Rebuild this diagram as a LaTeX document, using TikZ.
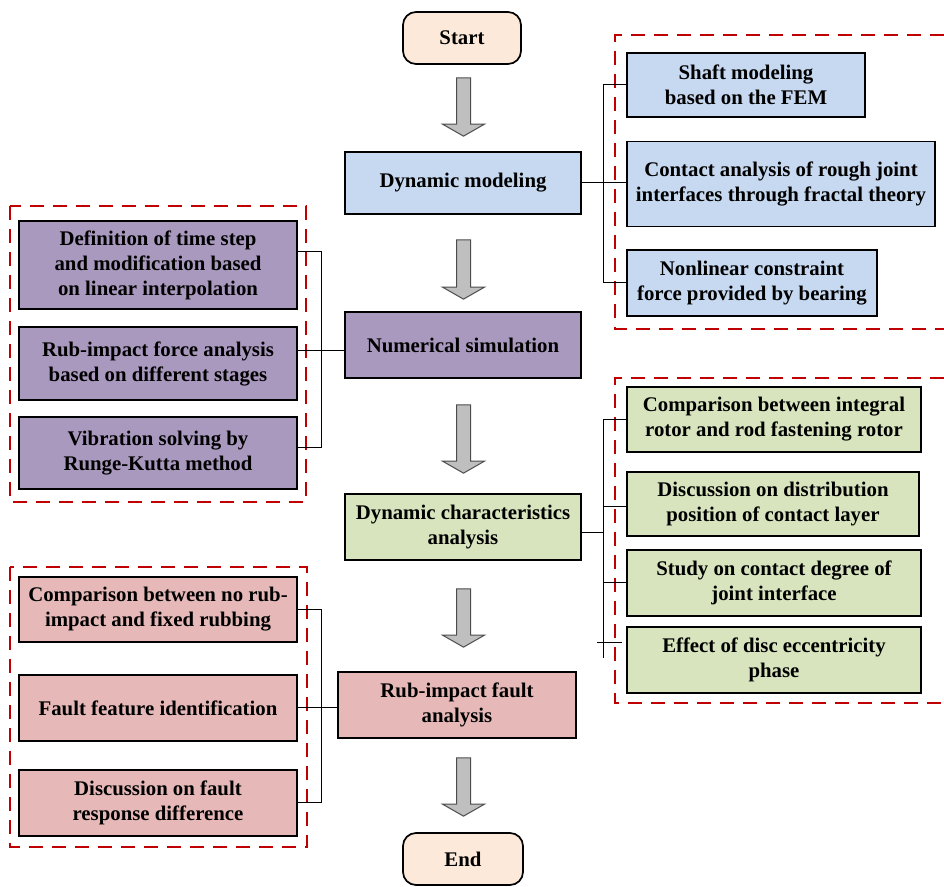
\documentclass[tikz,border=0pt]{standalone}
\usepackage{fontspec}
\setmainfont{Liberation Serif}
\usetikzlibrary{calc,positioning}
\definecolor{RmBlue}{RGB}{198,217,240}
\definecolor{RmPurple}{RGB}{170,153,191}
\definecolor{RmGreen}{RGB}{215,228,189}
\definecolor{RmPink}{RGB}{230,185,184}
\definecolor{RmPeach}{RGB}{252,233,218}
\definecolor{RmRed}{RGB}{192,0,0}
\definecolor{RmArrow}{RGB}{191,191,191}
\tikzset{
  rm/box/.style={
    draw=black,
    line width=0.85pt,
    align=center,
    inner sep=2pt,
    font=\fontsize{10.4}{12.5}\selectfont\bfseries
  },
  rm/terminal/.style={rm/box, rounded corners=6.5pt, fill=RmPeach, minimum width=59pt, minimum height=26pt},
  rm/main/.style={rm/box, minimum width=118pt, minimum height=33pt},
  rm/sub/.style={rm/box, minimum width=139pt, minimum height=33pt},
  rm/frame/.style={draw=RmRed, line width=0.8pt, dash pattern=on 7pt off 4.5pt},
  rm/link/.style={draw=black, line width=0.5pt},
  rm/blockarrow/.style={fill=RmArrow, draw=black!70, line width=0.5pt}
}
% gray block arrow from a top point down to a tip point
\newcommand{\blockarrow}[2]{%
  \draw[rm/blockarrow] let \p1=(#1), \p2=(#2) in
    (\x1-3.5pt,\y1) -- (\x1+3.5pt,\y1) -- (\x1+3.5pt,\y2+6pt) -- (\x1+10.5pt,\y2+6pt)
    -- (\x1,\y2) -- (\x1-10.5pt,\y2+6pt) -- (\x1-3.5pt,\y2+6pt) -- cycle;}

\begin{document}
\begin{tikzpicture}[x=0.5pt,y=-0.5pt]
  \useasboundingbox (0,0) rectangle (944,887);

  % main flow
  \node[rm/terminal] (start) at (462,38) {Start};
  \node[rm/main,fill=RmBlue,minimum height=31pt] (dm) at (463,183) {Dynamic modeling};
  \node[rm/main,fill=RmPurple] (ns) at (463,345) {Numerical simulation};
  \node[rm/main,fill=RmGreen] (dca) at (463,527) {Dynamic characteristics\\analysis};
  \node[rm/main,fill=RmPink,minimum width=119pt] (rif) at (457,705) {Rub-impact fault\\analysis};
  \node[rm/terminal,minimum width=60pt] (end) at (463,859) {End};

  \blockarrow{$(start.south)+(1.5,13)$}{$(dm.north)+(1.5,-15)$}
  \blockarrow{$(dm.south)+(0.5,25)$}{$(ns.north)+(0.5,-12)$}
  \blockarrow{$(ns.south)+(0.5,26)$}{$(dca.north)+(0.5,-20)$}
  \blockarrow{$(dca.south)+(0.5,28)$}{$(rif.north)+(6.5,-24)$}
  \blockarrow{$(rif.south)+(6.5,19)$}{$(end.north)+(0.5,-16)$}

  % modeling group
  \draw[rm/frame] (944,35) -| (615,329) -- (944,329);
  \node[rm/box,fill=RmBlue,minimum width=119pt,minimum height=32pt] (b1) at (746,85) {Shaft modeling\\based on the FEM};
  \node[rm/box,fill=RmBlue,minimum width=154pt,minimum height=42.5pt] (b2) at (781,184) {Contact analysis of rough joint\\interfaces through fractal theory};
  \node[rm/box,fill=RmBlue,minimum width=125pt,minimum height=33pt] (b3) at (752,283) {Nonlinear constraint\\force provided by bearing};
  \draw[rm/link] (b1.west) -- ++(-23,0) |- (b3.west);
  \draw[rm/link] (dm.east) -- (dm.east -| b2.west);

  % simulation group
  \draw[rm/frame] (10,206) rectangle (306,502);
  \node[rm/sub,fill=RmPurple,minimum height=44pt] (p1) at (158,265) {Definition of time step\\and modification based\\on linear interpolation};
  \node[rm/sub,fill=RmPurple,minimum height=36.5pt] (p2) at (158,363.5) {Rub-impact force analysis\\based on different stages};
  \node[rm/sub,fill=RmPurple,minimum height=36pt] (p3) at (158,453) {Vibration solving by\\Runge-Kutta method};
  \draw[rm/link] ([yshift=6.5pt]p1.east) -- ++(24,0) |- ([yshift=2.5pt]p3.east);
  \draw[rm/link] ([yshift=-3pt]ns.west) -- ([yshift=-3pt]ns.west -| p2.east);

  % characteristics group
  \draw[rm/frame] (944,378) -| (615,703) -- (944,703);
  \node[rm/box,fill=RmGreen,minimum width=147pt,minimum height=32.5pt] (g1) at (774,419.5) {Comparison between integral\\rotor and rod fastening rotor};
  \node[rm/box,fill=RmGreen,minimum width=146pt,minimum height=32pt] (g2) at (773,504) {Discussion on distribution\\position of contact layer};
  \node[rm/box,fill=RmGreen,minimum width=147pt,minimum height=33pt] (g3) at (774,583) {Study on contact degree of\\joint interface};
  \node[rm/box,fill=RmGreen,minimum width=147pt,minimum height=33pt] (g4) at (774,660) {Effect of disc eccentricity\\phase};
  \draw[rm/link] (g1.west) -- ++(-23,0) coordinate (gx) -- ([yshift=1pt]gx |- g4.west);
  \draw[rm/link] ([yshift=-1.5pt]g2.west) -- ([yshift=-1.5pt]g2.west -| gx);
  \draw[rm/link] (g3.west) -- (g3.west -| gx);
  \draw[rm/link] ([yshift=-3pt]dca.east) -- ([yshift=-3pt]dca.east -| gx);
  \draw[rm/link] ([xshift=-14.5pt,yshift=8.5pt]g4.west) -- ++(25,0);

  % fault group
  \draw[rm/frame] (10,567) rectangle (307,847);
  \node[rm/sub,fill=RmPink,minimum height=32.5pt] (r1) at (158,609.5) {Comparison between no rub-\\impact and fixed rubbing};
  \node[rm/sub,fill=RmPink] (r2) at (158,708) {Fault feature identification};
  \node[rm/sub,fill=RmPink] (r3) at (158,803) {Discussion on fault\\response difference};
  \draw[rm/link] (r1.east) -- ++(24,0) |- (r3.east);
  \draw[rm/link] (r2.east) -- (r2.east -| rif.west);
\end{tikzpicture}
\end{document}
